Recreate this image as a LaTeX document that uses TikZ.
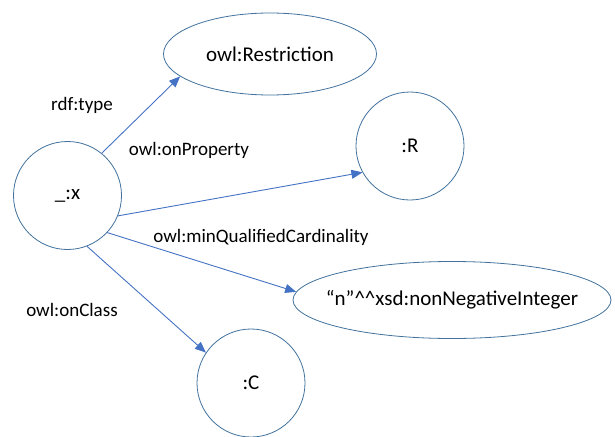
\documentclass[tikz,border=0pt]{standalone}
\usepackage{fontspec}
\setmainfont{Carlito}
\usetikzlibrary{shapes,arrows.meta}
\definecolor{nodeblue}{RGB}{65,113,156}
\definecolor{edgeblue}{RGB}{68,114,196}

\begin{document}
\begin{tikzpicture}[x=1pt,y=-1pt,
		every node/.style={font=\fontsize{19}{23}\selectfont},
		res/.style={circle, draw=nodeblue, line width=0.8pt, minimum size=108pt, inner sep=0,
			font=\fontsize{21}{25}\selectfont},
		lit/.style={ellipse, draw=nodeblue, line width=0.8pt, inner sep=0,
			font=\fontsize{21}{25}\selectfont},
		prop/.style={-{Triangle[length=11pt,width=9pt]}, draw=edgeblue, fill=none, line width=0.9pt},
		lbl/.style={inner sep=0}]
			\useasboundingbox (0,0) rectangle (615,436);

			% Resources
			\node[res] (x) at (67.5,195.5) {\_:x};
			\node[lit, minimum width=213pt, minimum height=82pt] (restr) at (270,54) {owl:Restriction};
			\node[res] (R) at (410,146) {:R};
			\node[lit, minimum width=318pt, minimum height=77pt, inner xsep=-30pt] (card) at (452,300)
				{“n”\textasciicircum\textasciicircum xsd:nonNegativeInteger};
			\node[res] (C) at (251,383) {:C};

			% Properties
			\draw[prop] (x.51) -- (restr.194);
			\draw[prop] (x.-22) -- (R.209);
			\draw[prop] (x.-43) -- (card.177);
			\draw[prop] (x.-69) -- (C.146);

			\node[lbl] (ltype) at (82,105) {rdf:type};
			\node[lbl] (lprop) at (189,150) {owl:onProperty};
			\node[lbl] (lcard) at (261,237) {owl:minQualifiedCardinality};
			\node[lbl] (lclass) at (72,310) {owl:onClass};
		\end{tikzpicture}
\end{document}
